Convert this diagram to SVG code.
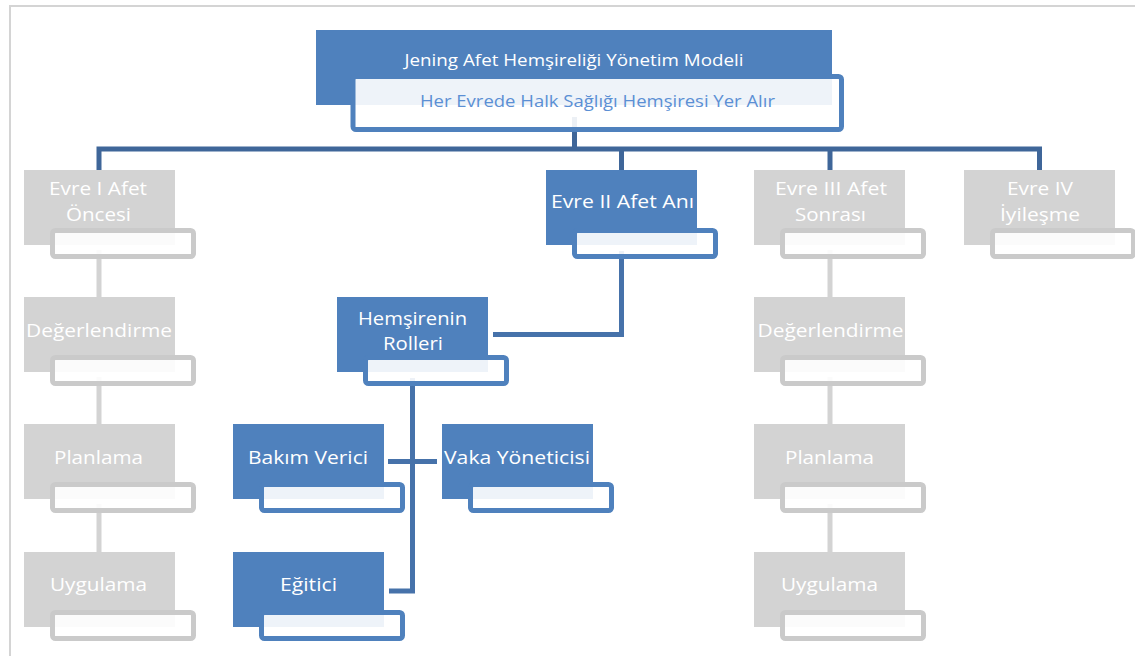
<svg xmlns="http://www.w3.org/2000/svg" width="1135" height="656" viewBox="0 0 1135 656">
  <style>
    .bg { fill: #ffffff; }
    .frame { fill: none; stroke: #d4d4d4; stroke-width: 2; }
    .blue { fill: #4f81bd; }
    .grey { fill: #d3d3d3; }
    .tab-b { fill: #ffffff; fill-opacity: 0.9; stroke: #4f81bd; stroke-width: 5; }
    .tab-g { fill: #ffffff; fill-opacity: 0.9; stroke: #cacaca; stroke-width: 5; }
    .link-b { fill: none; stroke: #4672aa; stroke-width: 5; }
    .link-top { fill: none; stroke: #3f6699; stroke-width: 5; }
    .link-g { fill: none; stroke: #d3d3d3; stroke-width: 5; }
    text { font-family: "Open Sans", "Noto Sans", "Liberation Sans", sans-serif; text-anchor: middle; }
    .lbl { fill: #ffffff; font-size: 19px; }
    .title { fill: #ffffff; font-size: 17px; }
    .sub { fill: #5b8fd4; font-size: 17px; }
  </style>

  <rect class="bg" x="0" y="0" width="1135" height="656"/>
  <path class="frame" d="M10 656 V6 H1135"/>

  <!-- connectors -->
  <g id="connectors">
    <path class="link-top" d="M99 170 V149 H1039.5 V170"/>
    <path class="link-top" d="M574.5 117 V149"/>
    <path class="link-top" d="M621.5 149 V170"/>
    <path class="link-top" d="M830 149 V170"/>
    <path class="link-b" d="M621.5 251 V334.5 H493"/>
    <path class="link-b" d="M412.5 378 V591 H389"/>
    <path class="link-b" d="M388 461.5 H437"/>
    <path class="link-g" d="M99 250 V297 M99 377 V424 M99 504 V552"/>
    <path class="link-g" d="M830 250 V297 M830 377 V424 M830 504 V552"/>
  </g>

  <!-- root -->
  <g id="node-root">
    <rect class="blue" x="316" y="30" width="516" height="75"/>
    <rect class="tab-b" x="353" y="76.5" width="488.5" height="53" rx="3"/>
    <text class="title" x="574" y="66" textLength="339" lengthAdjust="spacingAndGlyphs">Jening Afet Hemşireliği Yönetim Modeli</text>
    <text class="sub" x="597.5" y="107" textLength="355" lengthAdjust="spacingAndGlyphs">Her Evrede Halk Sağlığı Hemşiresi Yer Alır</text>
  </g>

  <!-- phase I -->
  <g id="node-evre1">
    <rect class="grey" x="24" y="170" width="151" height="75"/>
    <rect class="tab-g" x="52.5" y="230.5" width="141" height="26" rx="3"/>
    <text class="lbl" x="98" y="195" textLength="98" lengthAdjust="spacingAndGlyphs">Evre I Afet</text>
    <text class="lbl" x="98.5" y="221" textLength="65" lengthAdjust="spacingAndGlyphs">Öncesi</text>
  </g>
  <g id="node-evre1-degerlendirme">
    <rect class="grey" x="24" y="297" width="151" height="75"/>
    <rect class="tab-g" x="52.5" y="357.5" width="141" height="26" rx="3"/>
    <text class="lbl" x="99" y="337" textLength="146" lengthAdjust="spacingAndGlyphs">Değerlendirme</text>
  </g>
  <g id="node-evre1-planlama">
    <rect class="grey" x="24" y="424" width="151" height="75"/>
    <rect class="tab-g" x="52.5" y="484.5" width="141" height="26" rx="3"/>
    <text class="lbl" x="98.5" y="464" textLength="89" lengthAdjust="spacingAndGlyphs">Planlama</text>
  </g>
  <g id="node-evre1-uygulama">
    <rect class="grey" x="24" y="552" width="151" height="75"/>
    <rect class="tab-g" x="52.5" y="612.5" width="141" height="26" rx="3"/>
    <text class="lbl" x="98.5" y="591" textLength="97" lengthAdjust="spacingAndGlyphs">Uygulama</text>
  </g>

  <!-- phase II -->
  <g id="node-evre2">
    <rect class="blue" x="546" y="170" width="151" height="75"/>
    <rect class="tab-b" x="574.5" y="230.5" width="141" height="26" rx="3"/>
    <text class="lbl" x="622.5" y="208" textLength="143" lengthAdjust="spacingAndGlyphs">Evre II Afet Anı</text>
  </g>
  <g id="node-roller">
    <rect class="blue" x="337" y="297" width="151" height="75"/>
    <rect class="tab-b" x="365.5" y="357.5" width="141" height="26" rx="3"/>
    <text class="lbl" x="412.5" y="325" textLength="109" lengthAdjust="spacingAndGlyphs">Hemşirenin</text>
    <text class="lbl" x="413" y="350" textLength="60" lengthAdjust="spacingAndGlyphs">Rolleri</text>
  </g>
  <g id="node-bakim">
    <rect class="blue" x="233" y="424" width="151" height="75"/>
    <rect class="tab-b" x="261.5" y="484.5" width="141" height="26" rx="3"/>
    <text class="lbl" x="308" y="464" textLength="120" lengthAdjust="spacingAndGlyphs">Bakım Verici</text>
  </g>
  <g id="node-vaka">
    <rect class="blue" x="442" y="424" width="151" height="75"/>
    <rect class="tab-b" x="470.5" y="484.5" width="141" height="26" rx="3"/>
    <text class="lbl" x="517" y="464" textLength="146" lengthAdjust="spacingAndGlyphs">Vaka Yöneticisi</text>
  </g>
  <g id="node-egitici">
    <rect class="blue" x="233" y="552" width="151" height="75"/>
    <rect class="tab-b" x="261.5" y="612.5" width="141" height="26" rx="3"/>
    <text class="lbl" x="308.5" y="591" textLength="57" lengthAdjust="spacingAndGlyphs">Eğitici</text>
  </g>

  <!-- phase III -->
  <g id="node-evre3">
    <rect class="grey" x="754" y="170" width="151" height="75"/>
    <rect class="tab-g" x="782.5" y="230.5" width="141" height="26" rx="3"/>
    <text class="lbl" x="831" y="195" textLength="112" lengthAdjust="spacingAndGlyphs">Evre III Afet</text>
    <text class="lbl" x="830.5" y="221" textLength="71" lengthAdjust="spacingAndGlyphs">Sonrası</text>
  </g>
  <g id="node-evre3-degerlendirme">
    <rect class="grey" x="754" y="297" width="151" height="75"/>
    <rect class="tab-g" x="782.5" y="357.5" width="141" height="26" rx="3"/>
    <text class="lbl" x="830.5" y="337" textLength="146" lengthAdjust="spacingAndGlyphs">Değerlendirme</text>
  </g>
  <g id="node-evre3-planlama">
    <rect class="grey" x="754" y="424" width="151" height="75"/>
    <rect class="tab-g" x="782.5" y="484.5" width="141" height="26" rx="3"/>
    <text class="lbl" x="829.5" y="464" textLength="89" lengthAdjust="spacingAndGlyphs">Planlama</text>
  </g>
  <g id="node-evre3-uygulama">
    <rect class="grey" x="754" y="552" width="151" height="75"/>
    <rect class="tab-g" x="782.5" y="612.5" width="141" height="26" rx="3"/>
    <text class="lbl" x="829.5" y="591" textLength="97" lengthAdjust="spacingAndGlyphs">Uygulama</text>
  </g>

  <!-- phase IV -->
  <g id="node-evre4">
    <rect class="grey" x="964" y="170" width="151" height="75"/>
    <rect class="tab-g" x="992.5" y="230.5" width="141" height="26" rx="3"/>
    <text class="lbl" x="1040" y="195" textLength="66" lengthAdjust="spacingAndGlyphs">Evre IV</text>
    <text class="lbl" x="1040" y="221" textLength="80" lengthAdjust="spacingAndGlyphs">İyileşme</text>
  </g>
</svg>
